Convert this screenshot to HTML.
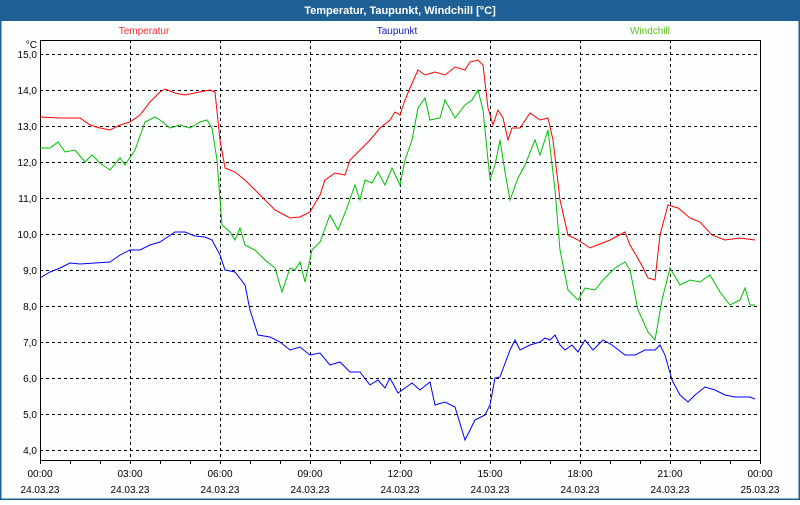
<!DOCTYPE html>
<html><head><meta charset="utf-8"><style>
html,body{margin:0;padding:0;background:#fff}
body{width:800px;height:500px;overflow:hidden;font-family:"Liberation Sans",sans-serif}
</style></head><body>
<svg width="800" height="500" xmlns="http://www.w3.org/2000/svg" font-family="Liberation Sans, sans-serif">
<rect x="0" y="0" width="800" height="500" fill="#fdfefe"/>
<rect x="0.5" y="0.5" width="799" height="499" fill="none" stroke="#1e5f96" stroke-width="2"/>
<rect x="0" y="0" width="800" height="21" fill="#1e5f96"/>
<text x="400" y="14" text-anchor="middle" font-size="11" font-weight="bold" fill="#fff">Temperatur, Taupunkt, Windchill [°C]</text>
<text x="144" y="34" text-anchor="middle" font-size="10" fill="#ff3030">Temperatur</text>
<text x="397" y="34" text-anchor="middle" font-size="10" fill="#2020c0">Taupunkt</text>
<text x="650" y="34" text-anchor="middle" font-size="10" fill="#60c020">Windchill</text>
<g stroke="#000" stroke-width="1" stroke-dasharray="3,3" fill="none">
<path d="M40 54.5H760M40 90.5H760M40 126.5H760M40 162.5H760M40 198.5H760M40 234.5H760M40 270.5H760M40 306.5H760M40 342.5H760M40 378.5H760M40 414.5H760M40 450.5H760"/>
<path d="M130.5 40V460M220.5 40V460M310.5 40V460M400.5 40V460M490.5 40V460M580.5 40V460M670.5 40V460"/>
</g>
<rect x="40.5" y="40.5" width="720" height="420" fill="none" stroke="#000" stroke-width="1"/>
<g stroke="#000"><path d="M40.5 460v4M70.5 460v4M100.5 460v4M130.5 460v4M160.5 460v4M190.5 460v4M220.5 460v4M250.5 460v4M280.5 460v4M310.5 460v4M340.5 460v4M370.5 460v4M400.5 460v4M430.5 460v4M460.5 460v4M490.5 460v4M520.5 460v4M550.5 460v4M580.5 460v4M610.5 460v4M640.5 460v4M670.5 460v4M700.5 460v4M730.5 460v4M760.5 460v4"/></g>
<g font-size="10" fill="#000" text-anchor="end">
<text x="37" y="48">°C</text>
<text x="37" y="58">15,0</text><text x="37" y="94">14,0</text><text x="37" y="130">13,0</text><text x="37" y="166">12,0</text><text x="37" y="202">11,0</text><text x="37" y="238">10,0</text><text x="37" y="274">9,0</text><text x="37" y="310">8,0</text><text x="37" y="346">7,0</text><text x="37" y="382">6,0</text><text x="37" y="418">5,0</text><text x="37" y="454">4,0</text>
</g>
<g font-size="10" fill="#000" text-anchor="middle">
<text x="40" y="477">00:00</text><text x="40" y="493">24.03.23</text>
<text x="130" y="477">03:00</text><text x="130" y="493">24.03.23</text>
<text x="220" y="477">06:00</text><text x="220" y="493">24.03.23</text>
<text x="310" y="477">09:00</text><text x="310" y="493">24.03.23</text>
<text x="400" y="477">12:00</text><text x="400" y="493">24.03.23</text>
<text x="490" y="477">15:00</text><text x="490" y="493">24.03.23</text>
<text x="580" y="477">18:00</text><text x="580" y="493">24.03.23</text>
<text x="670" y="477">21:00</text><text x="670" y="493">24.03.23</text>
<text x="760" y="477">00:00</text><text x="760" y="493">25.03.23</text>
</g>
<g fill="none" stroke-width="1">
<polyline stroke="#ff0000" points="40,117 60,118 80,118 90,125 100,128 110,130 120,125 130,122 140,115 150,102 160,92 165,89 175,93 185,95 200,92 210,90 215,92 220,140 225,168 235,172 245,180 260,195 275,210 290,218 300,217 310,212 320,195 325,180 335,173 345,175 350,160 360,150 370,140 380,128 390,120 395,112 400,115 405,100 410,88 418,70 425,75 435,72 445,75 455,67 465,70 470,62 478,60 483,65 488,108 493,125 498,110 503,118 508,140 512,128 520,128 530,113 540,120 548,118 553,140 560,200 568,235 578,240 590,248 600,244 610,240 625,232 630,245 640,262 648,278 655,280 660,235 668,205 678,208 690,218 700,222 712,235 725,240 740,238 755,240"/>
<polyline stroke="#00c000" points="40,148 50,148 58,142 65,152 75,150 85,162 92,155 100,163 110,170 120,158 125,165 135,150 145,122 155,117 160,120 170,128 180,125 190,128 200,122 207,120 212,128 217,160 222,225 230,232 235,240 240,228 245,245 255,250 265,260 275,268 282,292 290,268 295,270 300,262 305,282 312,250 320,242 330,215 338,230 345,213 355,185 360,200 365,180 372,183 378,172 385,185 392,168 400,185 405,160 412,140 418,108 425,98 430,120 440,118 445,100 455,118 465,105 472,100 478,90 483,110 490,180 495,165 500,140 505,172 510,200 518,178 525,165 535,140 540,155 548,130 555,190 560,250 568,290 578,300 585,288 595,290 603,280 615,268 625,262 630,270 638,310 648,332 655,340 662,300 670,268 680,285 690,280 700,282 710,275 720,292 730,305 740,300 745,288 750,305 755,305"/>
<polyline stroke="#0000ff" points="40,278 50,272 60,268 70,263 80,264 95,263 110,262 120,255 130,250 140,250 150,245 160,242 175,232 185,232 195,236 205,237 212,240 220,255 225,270 235,272 245,285 250,310 258,335 270,337 280,342 290,350 300,347 310,355 320,353 330,365 340,362 350,372 360,372 370,385 378,380 385,388 390,378 398,393 405,388 412,383 420,390 430,382 435,405 445,402 455,407 465,440 470,430 475,420 485,415 490,405 495,378 500,377 510,350 515,340 520,350 530,345 540,342 545,338 550,340 555,335 560,345 565,350 572,345 578,352 585,340 593,350 603,340 612,345 625,355 635,355 645,350 655,350 660,345 665,355 672,380 680,395 688,402 695,395 705,387 715,390 725,395 735,397 750,397 755,399"/>
</g>
</svg>
</body></html>
